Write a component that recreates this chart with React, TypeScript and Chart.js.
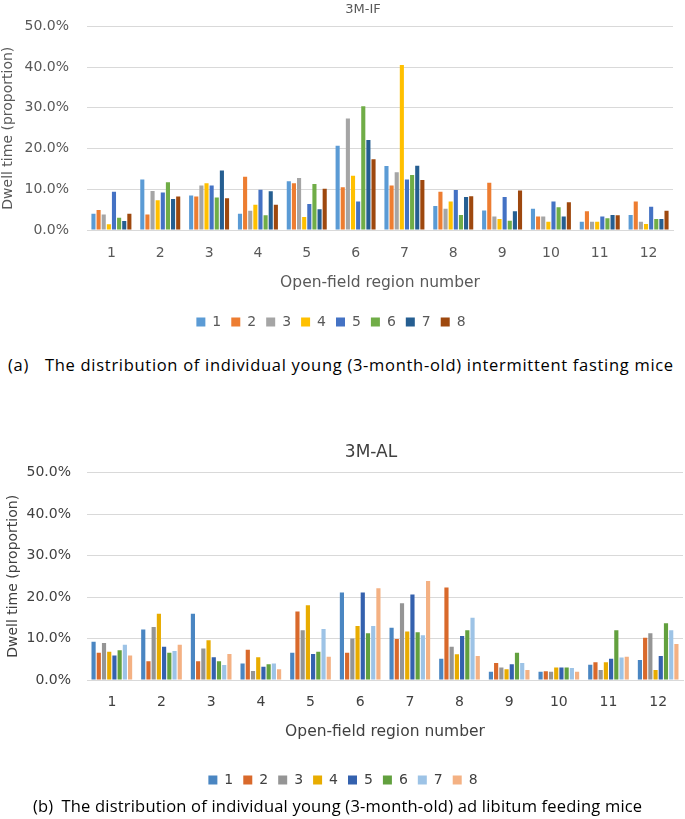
import React, { useEffect, useRef } from "react";
import { Chart, registerables } from "chart.js";

Chart.register(...registerables);

// ---------- data ----------
const regions = ["1", "2", "3", "4", "5", "6", "7", "8", "9", "10", "11", "12"];
const mice = ["1", "2", "3", "4", "5", "6", "7", "8"];
const yTicks = [0, 10, 20, 30, 40, 50];

// 3M-IF: dwell time (%) per open-field region, one array per mouse
const ifMouse1 = [4.0, 12.4, 8.5, 4.0, 12.0, 20.7, 15.7, 5.9, 4.8, 5.2, 2.0, 3.7];
const ifMouse2 = [4.9, 3.8, 8.2, 13.1, 11.5, 10.5, 10.9, 9.4, 11.6, 3.3, 4.6, 7.0];
const ifMouse3 = [3.8, 9.6, 10.9, 4.7, 12.8, 27.4, 14.2, 5.2, 3.3, 3.3, 2.0, 2.0];
const ifMouse4 = [1.4, 7.3, 11.5, 6.2, 3.2, 13.3, 40.5, 7.0, 2.7, 2.0, 2.0, 1.5];
const ifMouse5 = [9.4, 9.2, 10.9, 9.9, 6.4, 7.0, 12.4, 9.8, 8.1, 7.0, 3.3, 5.7];
const ifMouse6 = [3.0, 11.7, 8.0, 3.6, 11.3, 30.4, 13.5, 3.7, 2.3, 5.6, 2.9, 2.7];
const ifMouse7 = [2.2, 7.6, 14.6, 9.5, 5.1, 22.1, 15.8, 8.1, 4.6, 3.3, 3.7, 2.7];
const ifMouse8 = [4.0, 8.2, 7.8, 6.2, 10.1, 17.4, 12.3, 8.3, 9.7, 6.8, 3.6, 4.7];

// 3M-AL
const alMouse1 = [9.2, 12.2, 16.0, 4.0, 6.6, 21.1, 12.6, 5.1, 2.0, 2.0, 3.7, 4.8];
const alMouse2 = [6.6, 4.5, 4.5, 7.3, 16.5, 6.6, 9.9, 22.3, 4.1, 2.1, 4.3, 10.2];
const alMouse3 = [8.9, 12.8, 7.6, 2.2, 12.0, 10.0, 18.5, 8.0, 3.0, 2.0, 2.4, 11.3];
const alMouse4 = [6.8, 16.0, 9.6, 5.5, 18.0, 13.0, 11.7, 6.2, 2.6, 3.0, 4.3, 2.4];
const alMouse5 = [5.9, 8.0, 5.5, 3.2, 6.3, 21.1, 20.6, 10.6, 3.8, 3.0, 5.1, 5.8];
const alMouse6 = [7.2, 6.6, 4.5, 3.8, 6.8, 11.3, 11.5, 12.0, 6.6, 3.0, 12.0, 13.7];
const alMouse7 = [8.5, 7.0, 3.6, 4.0, 12.3, 13.0, 10.8, 15.0, 4.1, 2.9, 5.4, 12.0];
const alMouse8 = [5.9, 8.5, 6.3, 2.6, 5.6, 22.1, 23.9, 5.8, 2.4, 2.0, 5.6, 8.7];

const ifSeries = [ifMouse1, ifMouse2, ifMouse3, ifMouse4, ifMouse5, ifMouse6, ifMouse7, ifMouse8];
const alSeries = [alMouse1, alMouse2, alMouse3, alMouse4, alMouse5, alMouse6, alMouse7, alMouse8];

const ifColors = ["#5B9BD5", "#ED7D31", "#A5A5A5", "#FFC000", "#4472C4", "#70AD47", "#255E91", "#9E480E"];
const alColors = ["#4A86C2", "#D9692B", "#959595", "#E8AC00", "#3461AE", "#62A03E", "#9DC3E6", "#F4B183"];

const FONT = "'DejaVu Sans', 'Open Sans', sans-serif";
const CAPTION_FONT = "'Open Sans', 'DejaVu Sans', sans-serif";

const shiftPlugin = {
  id: "shift",
  afterLayout(chart: any, _args: any, opts: any) {
    const t = chart.titleBlock;
    if (t && opts.titleCenter != null) {
      const dx = opts.titleCenter - (t.left + t.right) / 2;
      t.left += dx;
      t.right += dx;
    }
    const l = chart.legend;
    if (l && opts.legendCenter != null) {
      const dx = opts.legendCenter - (l.left + l.right) / 2;
      l.left += dx;
      l.right += dx;
    }
  },
};

type P = {
  title: string;
  series: number[][];
  colors: string[];
  textColor: string;
  titleSize: number;
  titleCenter: number;
  legendCenter: number;
  padRight: number;
  titlePadTop: number;
  titlePadBottom: number;
  yScaleWidth: number;
  yTitlePad: number;
  yTickPad: number;
  xScaleHeight: number;
  xTickPad: number;
  xTitlePadBottom: number;
  legendPad: number;
};

function makeConfig(p: P): any {
  return {
    type: "bar",
    data: {
      labels: regions,
      datasets: mice.map((m, i) => ({
        label: m,
        data: p.series[i],
        backgroundColor: p.colors[i],
        borderWidth: 0,
        categoryPercentage: 0.84,
        barPercentage: 0.8,
      })),
    },
    plugins: [shiftPlugin],
    options: {
      responsive: false,
      animation: false,
      devicePixelRatio: 1,
      layout: { padding: { left: 0, right: p.padRight, top: 0, bottom: 0 } },
      plugins: {
        shift: { titleCenter: p.titleCenter, legendCenter: p.legendCenter },
        title: {
          display: true,
          text: p.title,
          color: p.textColor,
          font: { family: FONT, size: p.titleSize, weight: "normal" },
          padding: { top: p.titlePadTop, bottom: p.titlePadBottom },
        },
        legend: {
          display: true,
          position: "bottom",
          labels: {
            color: p.textColor,
            font: { family: FONT, size: 14 },
            boxWidth: 9,
            boxHeight: 9,
            padding: p.legendPad,
          },
        },
        tooltip: { enabled: false },
      },
      scales: {
        x: {
          grid: { display: false, drawTicks: false },
          border: { display: true, color: "#D9D9D9", width: 1 },
          ticks: { color: p.textColor, font: { family: FONT, size: 14 }, padding: p.xTickPad, maxRotation: 0 },
          title: {
            display: true,
            text: "Open-field region number",
            color: p.textColor,
            font: { family: FONT, size: 15.5 },
            padding: { top: 0, bottom: p.xTitlePadBottom },
          },
          afterFit: (s: any) => {
            s.height = p.xScaleHeight;
          },
        },
        y: {
          min: 0,
          max: 50,
          afterBuildTicks: (s: any) => {
            s.ticks = yTicks.map((v) => ({ value: v }));
          },
          grid: { color: "#D9D9D9", lineWidth: 1, drawTicks: false },
          border: { display: false },
          ticks: {
            color: p.textColor,
            font: { family: FONT, size: 14 },
            padding: p.yTickPad,
            callback: (v: any) => Number(v).toFixed(1) + "%",
          },
          title: {
            display: true,
            text: "Dwell time (proportion)",
            color: p.textColor,
            font: { family: FONT, size: 14 },
            padding: { top: p.yTitlePad, bottom: 0 },
          },
          afterFit: (s: any) => {
            s.width = p.yScaleWidth;
          },
        },
      },
    },
  };
}

function BarChart({ p, width, height }: { p: P; width: number; height: number }) {
  const ref = useRef<HTMLCanvasElement | null>(null);
  useEffect(() => {
    if (!ref.current) return;
    const chart = new Chart(ref.current, makeConfig(p));
    return () => chart.destroy();
  }, []);
  return <canvas ref={ref} width={width} height={height} style={{ display: "block", width, height }} />;
}

const paramsIF: P = {
  title: "3M-IF",
  series: ifSeries,
  colors: ifColors,
  textColor: "#595959",
  titleSize: 13,
  titleCenter: 363,
  legendCenter: 331,
  padRight: 12,
  titlePadTop: 0,
  titlePadBottom: 9.4,
  yScaleWidth: 87,
  yTitlePad: 0,
  yTickPad: 18,
  xScaleHeight: 75,
  xTickPad: 15,
  xTitlePadBottom: 13,
  legendPad: 10,
};

const paramsAL: P = {
  title: "3M-AL",
  series: alSeries,
  colors: alColors,
  textColor: "#404040",
  titleSize: 17,
  titleCenter: 371,
  legendCenter: 343,
  padRight: 2,
  titlePadTop: 2,
  titlePadBottom: 10.3,
  yScaleWidth: 87,
  yTitlePad: 5,
  yTickPad: 16,
  xScaleHeight: 83,
  xTickPad: 14,
  xTitlePadBottom: 22,
  legendPad: 10,
};

const captionStyle: React.CSSProperties = {
  position: "absolute",
  fontFamily: CAPTION_FONT,
  fontSize: 16.5,
  lineHeight: "20px",
  color: "#000",
  whiteSpace: "nowrap",
};

export default function App() {
  return (
    <div style={{ position: "absolute", left: 0, top: 0, width: 685, height: 819, background: "#fff", overflow: "hidden" }}>
      <div style={{ position: "absolute", left: 0, top: 0 }}>
        <BarChart p={paramsIF} width={685} height={339} />
      </div>
      <div style={{ ...captionStyle, left: 8, top: 355, letterSpacing: "0.7px" }}>
        (a)<span style={{ display: "inline-block", width: 16 }} />The distribution of individual young (3-month-old) intermittent fasting mice
      </div>
      <div style={{ position: "absolute", left: 0, top: 440 }}>
        <BarChart p={paramsAL} width={685} height={357} />
      </div>
      <div style={{ ...captionStyle, left: 33, top: 796, letterSpacing: "0.2px" }}>
        (b)<span style={{ display: "inline-block", width: 8 }} />The distribution of individual young (3-month-old) ad libitum feeding mice
      </div>
    </div>
  );
}
